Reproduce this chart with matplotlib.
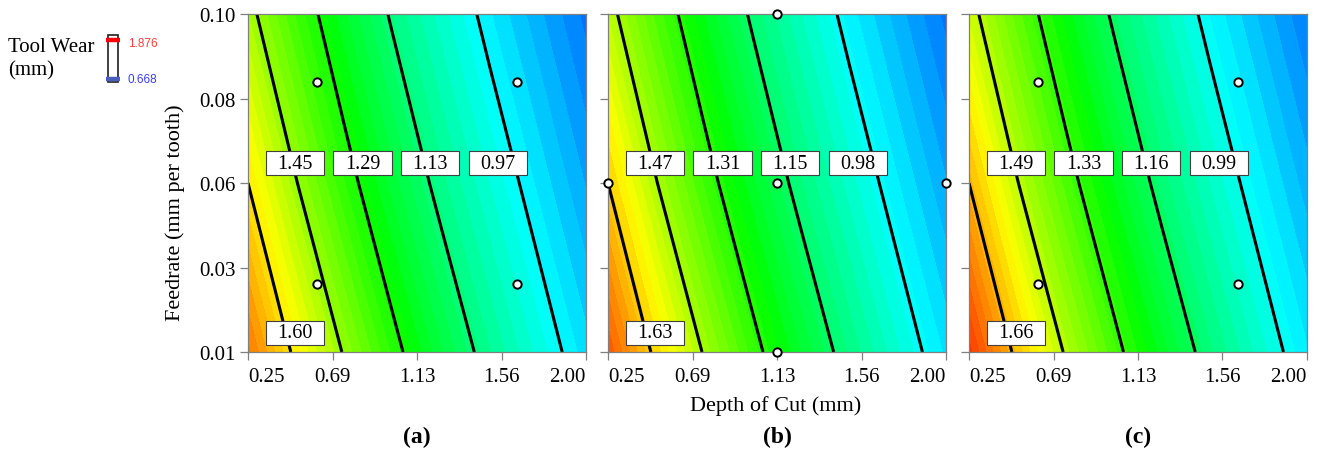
import numpy as np
import matplotlib
matplotlib.use('Agg')
import matplotlib.pyplot as plt
import matplotlib.colors as mcolors
from matplotlib.patches import Rectangle

plt.rcParams['font.family'] = ['Liberation Serif', 'DejaVu Serif']

# response surface grid: columns are depth of cut, rows are feedrate
depth = [0.25, 0.50, 0.75, 1.00, 1.25, 1.50, 1.75, 2.00]
feed = [0.01, 0.055, 0.10]

wear_a = [
    [1.732, 1.583, 1.442, 1.314, 1.200, 1.098, 1.011, 0.930],
    [1.600, 1.453, 1.323, 1.208, 1.105, 1.020, 0.939, 0.867],
    [1.474, 1.343, 1.225, 1.119, 1.032, 0.948, 0.877, 0.810],
]
wear_b = [
    [1.771, 1.612, 1.462, 1.334, 1.220, 1.116, 1.024, 0.938],
    [1.630, 1.473, 1.343, 1.228, 1.123, 1.033, 0.947, 0.871],
    [1.496, 1.363, 1.245, 1.138, 1.046, 0.957, 0.881, 0.810],
]
wear_c = [
    [1.810, 1.641, 1.482, 1.354, 1.234, 1.126, 1.034, 0.948],
    [1.660, 1.493, 1.363, 1.243, 1.133, 1.043, 0.957, 0.881],
    [1.517, 1.383, 1.261, 1.148, 1.056, 0.967, 0.891, 0.820],
]

# contour levels, first one is labelled near the bottom
levels_a = [1.60, 1.45, 1.29, 1.13, 0.97]
levels_b = [1.63, 1.47, 1.31, 1.15, 0.98]
levels_c = [1.66, 1.49, 1.33, 1.16, 0.99]

# design points shown on each slice
pts_a_x = [0.605, 1.645, 0.605, 1.645]
pts_a_y = [0.0818, 0.0818, 0.0282, 0.0282]
pts_b_x = [1.125, 1.125, 1.125, 0.25, 2.00]
pts_b_y = [0.10, 0.055, 0.01, 0.055, 0.055]
pts_c_x = [0.605, 1.645, 0.605, 1.645]
pts_c_y = [0.0818, 0.0818, 0.0282, 0.0282]

wear_max = 1.876
wear_min = 0.668

x_ticks = [0.25, 0.6875, 1.125, 1.5625, 2.00]
x_ticklabels = ['0.25', '0.69', '1.13', '1.56', '2.00']
y_ticks = [0.01, 0.0325, 0.055, 0.0775, 0.10]
y_ticklabels = ['0.01', '0.03', '0.06', '0.08', '0.10']

panel_names = ['(a)', '(b)', '(c)']

# rainbow from blue (low wear) to red (high wear)
hues = np.linspace(240, 0, 256) / 360.0
rgb = mcolors.hsv_to_rgb(np.column_stack([hues, np.ones(256), np.ones(256)]))
cmap = mcolors.ListedColormap(rgb)
norm = mcolors.Normalize(vmin=wear_min, vmax=wear_max)
fill_levels = np.linspace(wear_min, wear_max, 49)

W, H = 1322, 456
fig = plt.figure(figsize=(W / 100, H / 100), dpi=100)

panel_left = [248, 608, 969]
panel_w = 338
panel_top, panel_bot = 15, 353

spine_col = '#808080'
box_style = dict(boxstyle='square,pad=0.57', fc='white', ec='#404040',
                 lw=0.8, mutation_aspect=0.22)

panels = [
    (wear_a, levels_a, pts_a_x, pts_a_y),
    (wear_b, levels_b, pts_b_x, pts_b_y),
    (wear_c, levels_c, pts_c_x, pts_c_y),
]

for i, (wear, levels, px, py) in enumerate(panels):
    left = panel_left[i]
    ax = fig.add_axes([left / W, (H - panel_bot) / H, panel_w / W,
                       (panel_bot - panel_top) / H])
    ax.contourf(depth, feed, wear, levels=fill_levels, cmap=cmap, norm=norm)
    ax.contour(depth, feed, wear, levels=sorted(levels), colors='black',
               linewidths=2.2)
    ax.plot(px, py, 'o', ms=6, mfc='white', mec='black', mew=1.4,
            clip_on=False, zorder=5)

    ax.set_xlim(0.25, 2.00)
    ax.set_ylim(0.01, 0.10)
    ax.set_xticks(x_ticks)
    ax.set_xticklabels(x_ticklabels)
    # end labels sit inside the frame so neighbouring panels don't collide
    xt = ax.get_xticklabels()
    xt[0].set_horizontalalignment('left')
    xt[-1].set_horizontalalignment('right')
    ax.set_yticks(y_ticks)
    if i == 0:
        ax.set_yticklabels(y_ticklabels)
    else:
        ax.set_yticklabels([])
    ax.tick_params(direction='out', length=6, width=0.9, color=spine_col,
                   labelsize=15, pad=3)
    ax.tick_params(axis='x', pad=5)
    for sp in ax.spines.values():
        sp.set_color(spine_col)
        sp.set_linewidth(0.9)

    # value boxes: bottom-left one, then a row across the middle
    ax.text(0.139, 0.057, '%.2f' % levels[0], transform=ax.transAxes,
            ha='center', va='center', fontsize=14.5, bbox=box_style, zorder=6)
    for k, lv in enumerate(levels[1:]):
        ax.text(0.139 + 0.2 * k, 0.558, '%.2f' % lv, transform=ax.transAxes,
                ha='center', va='center', fontsize=14.5, bbox=box_style,
                zorder=6)

    fig.text((left + panel_w / 2) / W, 1 - 437 / H, panel_names[i],
             ha='center', va='center', fontsize=17, fontweight='bold')

fig.text(175 / W, 1 - 213 / H, 'Feedrate (mm per tooth)', rotation=90,
         ha='center', va='center', fontsize=16)
fig.text(776 / W, 1 - 406 / H, 'Depth of Cut (mm)', ha='center',
         va='center', fontsize=16)

# colour key in the top-left corner, drawn in pixel units
key = fig.add_axes([0, 0, 1, 1])
key.set_xlim(0, W)
key.set_ylim(H, 0)
key.axis('off')
key.text(8, 48, 'Tool Wear', ha='left', va='center', fontsize=15)
key.text(8, 71, '(mm)', ha='left', va='center', fontsize=15)
key.add_patch(Rectangle((108, 36), 10, 47, fill=False, ec='#202020', lw=1.2))
key.plot([106, 120], [41, 41], color=cmap(norm(wear_max)), lw=3.2,
         solid_capstyle='butt')
key.plot([106, 120], [80, 80], color='#4a5fc0', lw=3.2,
         solid_capstyle='butt')
key.text(128, 44, '%.3f' % wear_max, color='#ff3b3b', ha='left',
         va='center', fontsize=8.5, family=['Liberation Sans', 'DejaVu Sans'])
key.text(128, 80, '%.3f' % wear_min, color='#3b3bff', ha='left',
         va='center', fontsize=8.5, family=['Liberation Sans', 'DejaVu Sans'])

fig.savefig('out.png', dpi=100)
